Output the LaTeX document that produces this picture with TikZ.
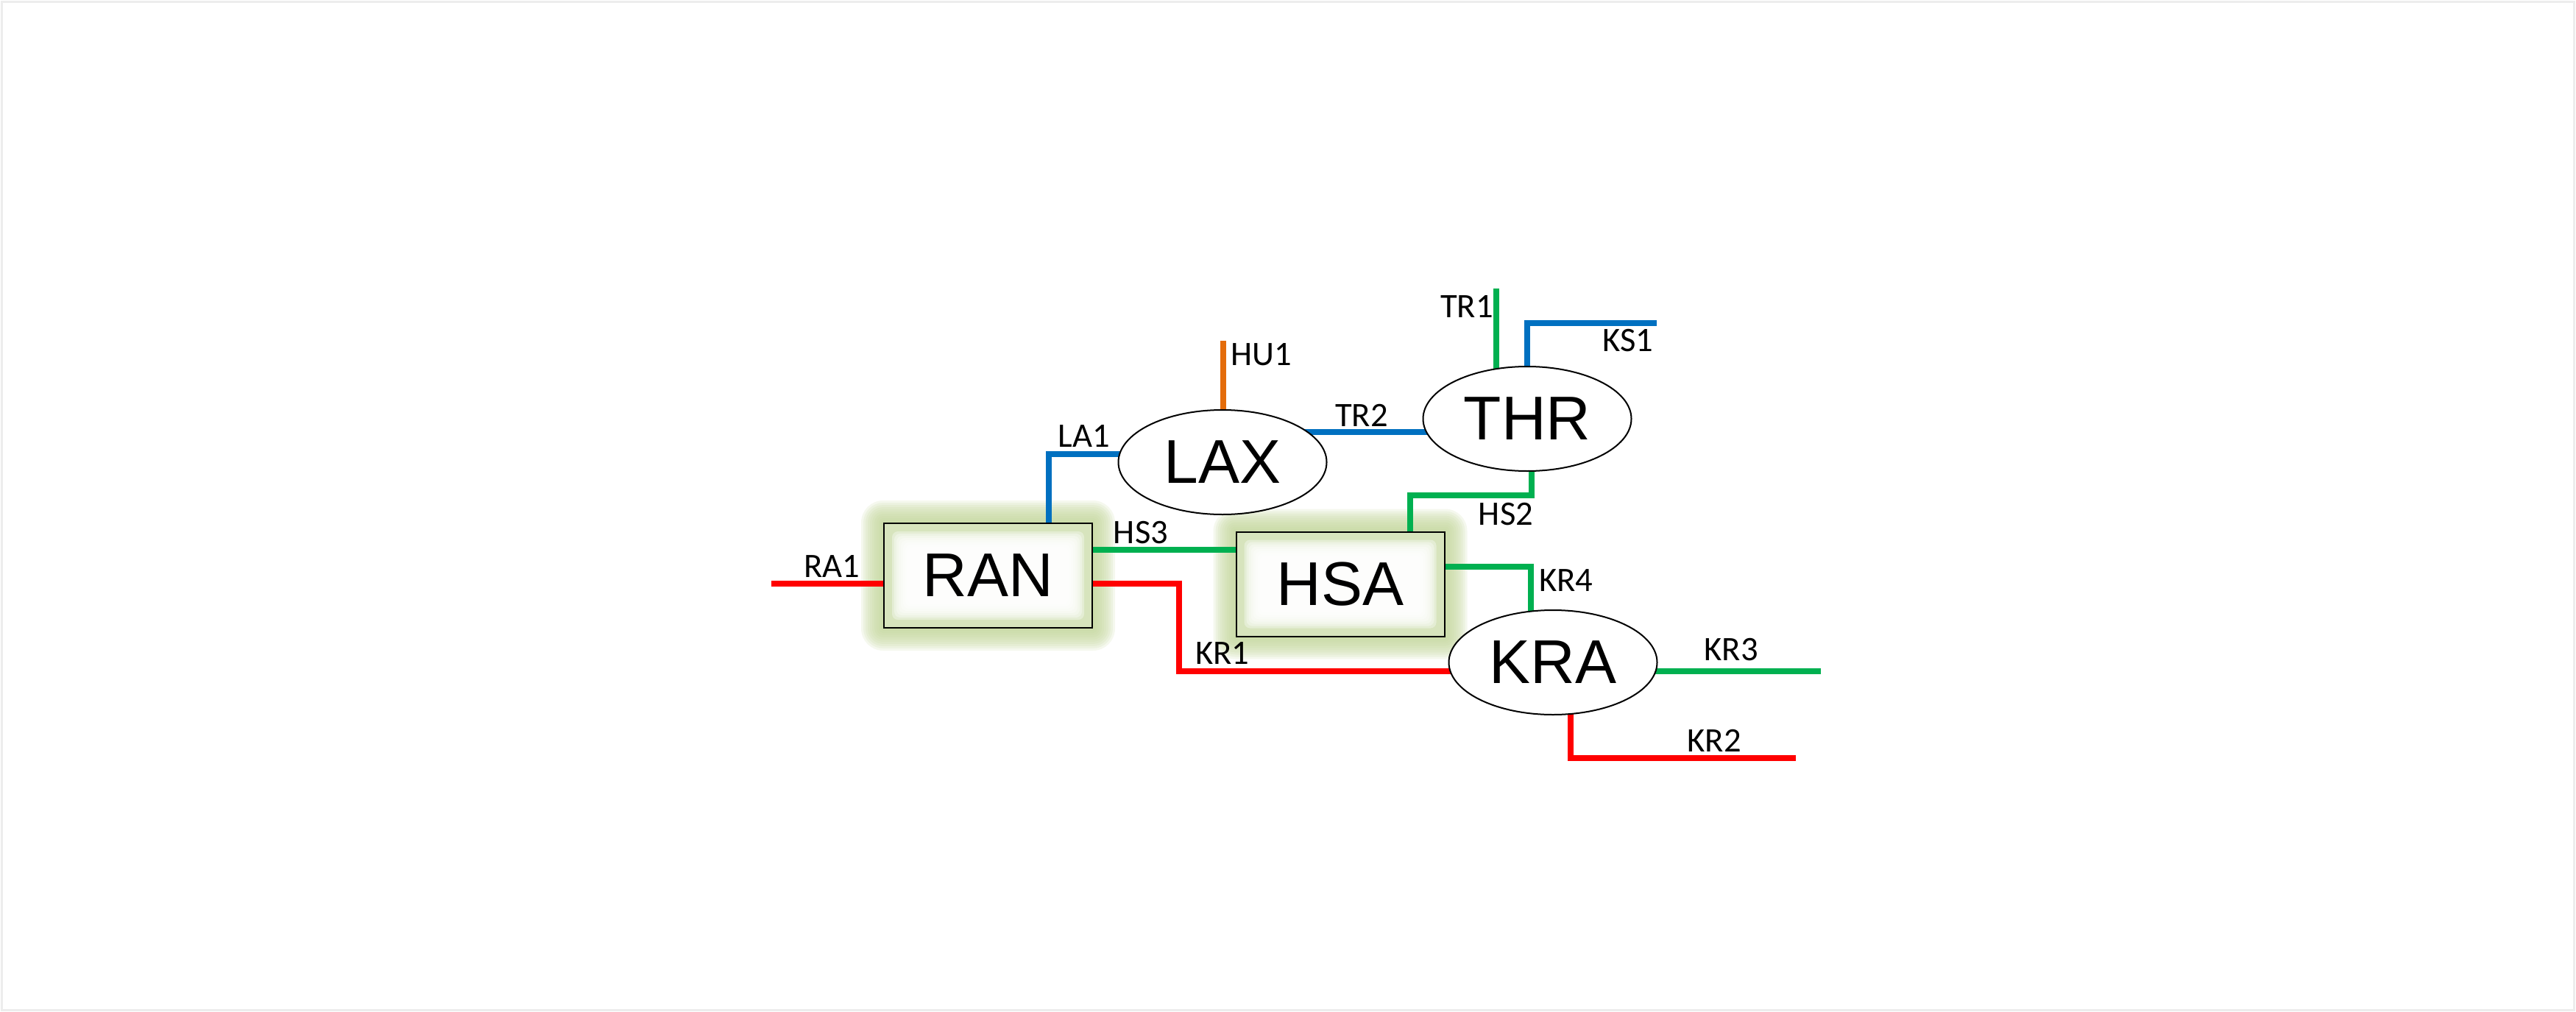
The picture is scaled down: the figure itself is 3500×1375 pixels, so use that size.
\documentclass[tikz,border=0pt]{standalone}
\usepackage{fontspec}
\setmainfont{Liberation Sans}
\newfontfamily\labfont{Carlito}
\usetikzlibrary{shapes.geometric}
\pgfdeclarelayer{glow}\pgfdeclarelayer{lines}\pgfdeclarelayer{boxfill}
\pgfsetlayers{glow,lines,boxfill,main}
\definecolor{cred}{HTML}{FF0000}
\definecolor{cgreen}{HTML}{00B050}
\definecolor{cblue}{HTML}{0070C0}
\definecolor{corange}{HTML}{E46C0A}
\definecolor{glowc}{HTML}{C3D69B}
\definecolor{boxc}{HTML}{D7E4BD}
\tikzset{
  station/.style={rectangle, draw, line width=2pt, minimum width=283pt, minimum height=142pt, inner sep=0pt, font=\fontsize{84}{90}\selectfont},
  hub/.style={ellipse, draw, fill=white, line width=2pt, minimum width=283pt, minimum height=142pt, inner sep=0pt, font=\fontsize{84}{90}\selectfont},
  lab/.style={anchor=base, font=\labfont\fontsize{46.6}{50}\selectfont, inner sep=0pt},
  link/.style={line width=7.5pt},
}
\begin{document}
\begin{tikzpicture}[x=1pt,y=-1pt]
\useasboundingbox (0,0) rectangle (3500,1375);
\draw[black!7, line width=3pt] (2.5,2.5) rectangle (3497.5,1372.5);
% nodes
\node[station] (RAN) at (1342.5,782) {RAN};
\node[station] (HSA) at (1821,793.5) {HSA};
\node[hub] (LAX) at (1661,628) {LAX};
\node[hub] (THR) at (2075,569) {THR};
\node[hub] (KRA) at (2110,900) {KRA};
% glow
\begin{pgfonlayer}{glow}
\foreach \b in {RAN,HSA}
  \foreach \d in {3,6,...,30}
    \fill[glowc, opacity=0.17, rounded corners=\d pt] ([xshift=-\d pt,yshift=-\d pt]\b.south west) rectangle ([xshift=\d pt,yshift=\d pt]\b.north east);
\end{pgfonlayer}
\begin{pgfonlayer}{boxfill}
\foreach \b in {RAN,HSA}{
  \fill[boxc] (\b.south west) rectangle (\b.north east);
  \foreach \d in {12,15,...,33}
    \fill[white, opacity=0.35, rounded corners=8pt] ([xshift=\d pt,yshift=\d pt]\b.south west) rectangle ([xshift=-\d pt,yshift=-\d pt]\b.north east);
}
\end{pgfonlayer}
% coordinates
\coordinate (ra1) at (1048,793);
\coordinate (kr1a) at (1602,793);
\coordinate (kr1b) at (1602,912);
\coordinate (hs3y) at (0,747);
\coordinate (la1a) at (1425,617);
\coordinate (hu1) at (1662,463);
\coordinate (tr2y) at (0,587);
\coordinate (tr1) at (2033,392);
\coordinate (ks1a) at (2075,439);
\coordinate (ks1b) at (2251,439);
\coordinate (hs2a) at (2081,673);
\coordinate (hs2b) at (1916,673);
\coordinate (kr4a) at (2080,770);
\coordinate (kr3) at (2474,912);
\coordinate (kr2a) at (2134,1030);
\coordinate (kr2b) at (2440,1030);
% connectors
\begin{pgfonlayer}{lines}
\draw[link, cred] (ra1) -- (RAN.center |- ra1);
\draw[link, cred] (RAN.center |- kr1a) -- (kr1a) -- (kr1b) -- (KRA.center |- kr1b);
\draw[link, cgreen] (RAN.center |- hs3y) -- (HSA.center |- hs3y);
\draw[link, cblue] (RAN.center -| la1a) -- (la1a) -- (LAX.center |- la1a);
\draw[link, corange] (LAX.center -| hu1) -- (hu1);
\draw[link, cblue] (LAX.center |- tr2y) -- (THR.center |- tr2y);
\draw[link, cgreen] (THR.center -| tr1) -- (tr1);
\draw[link, cblue] (THR.center -| ks1a) -- (ks1a) -- (ks1b);
\draw[link, cgreen] (THR.center -| hs2a) -- (hs2a) -- (hs2b) -- (HSA.center -| hs2b);
\draw[link, cgreen] (HSA.center |- kr4a) -- (kr4a) -- (KRA.center -| kr4a);
\draw[link, cgreen] (KRA.center |- kr3) -- (kr3);
\draw[link, cred] (KRA.center -| kr2a) -- (kr2a) -- (kr2b);
\end{pgfonlayer}
% labels
\node[lab] (lra1) at (1130,784) {RA1};
\node[lab] (lla1) at (1473,607) {LA1};
\node[lab] (lhu1) at (1714,496) {HU1};
\node[lab] (ltr2) at (1850,579) {TR2};
\node[lab] (ltr1) at (1993,431) {TR1};
\node[lab] (lks1) at (2212,477) {KS1};
\node[lab] (lhs3) at (1550,738) {HS3};
\node[lab] (lhs2) at (2046,713) {HS2};
\node[lab] (lkr4) at (2128,803) {KR4};
\node[lab] (lkr3) at (2352,897) {KR3};
\node[lab] (lkr2) at (2329,1021) {KR2};
\node[lab] (lkr1) at (1661,902) {KR1};
\end{tikzpicture}
\end{document}
